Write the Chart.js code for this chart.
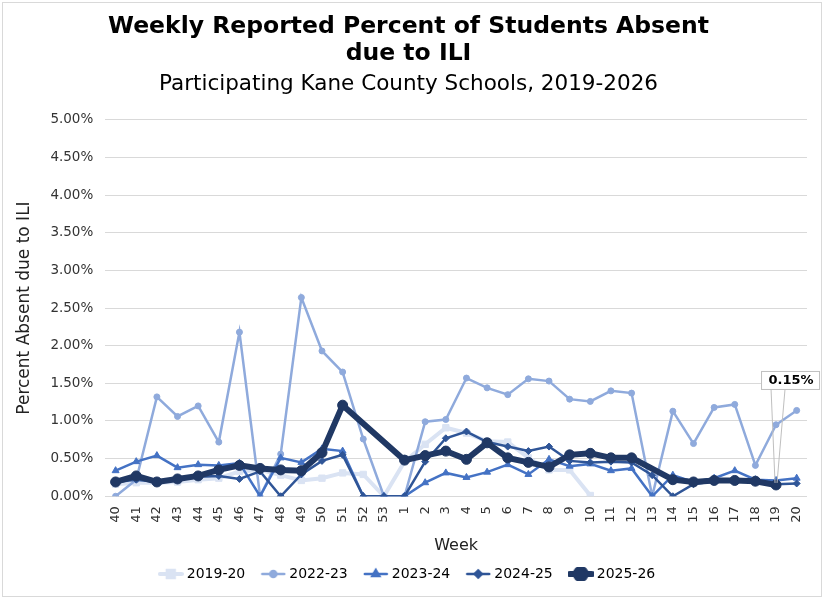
<!DOCTYPE html>
<html>
<head>
<meta charset="utf-8">
<script src="https://cdn.jsdelivr.net/npm/chart.js@4/dist/chart.umd.min.js"></script>
<style>
  html, body { margin: 0; padding: 0; background: #fff; }
  #wrap { width: 825px; height: 599px; }
</style>
</head>
<body>
<div id="wrap"><canvas id="chart"></canvas></div>
<script>
const weeks = ["40","41","42","43","44","45","46","47","48","49","50","51","52","53",
  "1","2","3","4","5","6","7","8","9","10","11","12","13","14","15","16","17","18","19","20"];

const season1920 = [0.16,0.18,0.18,0.19,0.22,0.24,0.33,0.35,0.28,0.21,0.24,0.31,0.29,0.00,
  0.46,0.69,0.91,0.84,0.73,0.72,0.51,0.35,0.35,0.01,null,null,null,null,null,null,null,null,null,null];
const season2223 = [0.00,0.22,1.32,1.06,1.20,0.72,2.18,0.00,0.56,2.64,1.93,1.65,0.76,0.00,
  0.00,0.99,1.02,1.57,1.44,1.35,1.56,1.53,1.29,1.26,1.40,1.37,0.00,1.13,0.70,1.18,1.22,0.41,0.95,1.14];
const season2324 = [0.34,0.46,0.54,0.38,0.42,0.41,0.44,0.00,0.51,0.45,0.63,0.60,0.00,0.00,
  0.00,0.18,0.31,0.25,0.32,0.42,0.29,0.49,0.40,0.43,0.34,0.37,0.00,0.28,0.19,0.24,0.34,0.22,0.21,0.24];
const season2425 = [0.19,0.22,0.19,0.23,0.26,0.27,0.23,0.33,0.00,0.29,0.47,0.55,0.00,0.00,
  0.00,0.46,0.77,0.86,0.72,0.66,0.60,0.66,0.47,0.45,0.46,0.45,0.28,0.00,0.16,0.20,0.21,0.20,0.16,0.17];
const season2526 = [0.19,0.27,0.19,0.23,0.27,0.35,0.41,0.37,0.35,0.34,0.58,1.21,null,null,
  0.48,0.54,0.60,0.49,0.71,0.51,0.45,0.39,0.55,0.57,0.51,0.51,null,0.22,0.19,0.21,0.21,0.20,0.15,null];

const yTicks = [0,0.5,1,1.5,2,2.5,3,3.5,4,4.5,5];

const FONT = "'DejaVu Sans', Verdana, sans-serif";

const series = [
  { label: "2019-20", data: season1920, color: "#dae3f3", width: 4, style: "rect", radius: 4.5 },
  { label: "2022-23", data: season2223, color: "#8faadc", width: 2.5, style: "circle", radius: 3 },
  { label: "2023-24", data: season2324, color: "#4472c4", width: 2.5, style: "triangle", radius: 4 },
  { label: "2024-25", data: season2425, color: "#2f5597", width: 2.5, style: "rectRot", radius: 3.5 },
  { label: "2025-26", data: season2526, color: "#203864", width: 6, style: "circle", radius: 5 }
];

// little line+marker swatch for the legend
function makeSwatch(s) {
  const c = document.createElement("canvas");
  c.width = 26; c.height = 14;
  const g = c.getContext("2d");
  g.strokeStyle = s.color;
  g.lineWidth = s.width;
  g.lineCap = "round";
  g.beginPath(); g.moveTo(2, 7); g.lineTo(24, 7); g.stroke();
  Chart.helpers.drawPoint(g, { pointStyle: s.style, radius: s.radius, rotation: 0, borderWidth: 1 }, 13, 7);
  g.fillStyle = s.color;
  g.fill();
  return c;
}

const callout = {
  id: "callout",
  afterDatasetsDraw(chart) {
    const meta = chart.getDatasetMeta(4);
    const pt = meta.data[32];
    if (!pt) return;
    const ctx = chart.ctx;
    const px = pt.x, py = pt.y;
    const bx = px - 15, by = py - 114, bw = 58, bh = 18;
    ctx.save();
    ctx.strokeStyle = "#bfbfbf";
    ctx.lineWidth = 1;
    ctx.beginPath();
    ctx.moveTo(px - 5, by + bh); ctx.lineTo(px - 1, py - 2);
    ctx.moveTo(px + 9, by + bh); ctx.lineTo(px + 1, py - 2);
    ctx.stroke();
    ctx.fillStyle = "#fff";
    ctx.fillRect(bx, by, bw, bh);
    ctx.strokeRect(bx + 0.5, by + 0.5, bw, bh);
    ctx.fillStyle = "#000";
    ctx.font = "bold 13px " + FONT;
    ctx.textAlign = "center";
    ctx.textBaseline = "middle";
    ctx.fillText(season2526[32].toFixed(2) + "%", bx + bw / 2 + 1, by + bh / 2 + 1);
    ctx.restore();
  }
};

const frame = {
  id: "frame",
  beforeDraw(chart) {
    const ctx = chart.ctx;
    ctx.save();
    ctx.fillStyle = "#fff";
    ctx.fillRect(0, 0, chart.width, chart.height);
    ctx.strokeStyle = "#d9d9d9";
    ctx.lineWidth = 1;
    ctx.strokeRect(2.5, 2.5, chart.width - 6, chart.height - 5);
    ctx.restore();
  }
};

new Chart(document.getElementById("chart"), {
  type: "line",
  data: {
    labels: weeks,
    datasets: series.map((s, i) => ({
      label: s.label,
      data: s.data,
      borderColor: s.color,
      backgroundColor: s.color,
      borderWidth: s.width,
      pointStyle: s.style,
      pointRadius: s.radius,
      pointBorderWidth: 1,
      pointBackgroundColor: s.color,
      pointBorderColor: s.color,
      tension: 0,
      spanGaps: true,
      order: series.length - i,
      swatch: makeSwatch(s)
    }))
  },
  options: {
    responsive: true,
    maintainAspectRatio: false,
    animation: false,
    layout: { padding: { left: 10, right: 18, top: 6, bottom: 8 } },
    scales: {
      x: {
        offset: true,
        grid: { display: false },
        border: { display: false },
        ticks: {
          font: { family: FONT, size: 13 },
          color: "#333",
          maxRotation: 90,
          minRotation: 90,
          autoSkip: false,
          padding: 2
        },
        title: {
          display: true,
          text: "Week",
          font: { family: FONT, size: 16 },
          color: "#222",
          padding: { top: 11, bottom: -7 }
        }
      },
      y: {
        min: 0,
        max: 5,
        afterBuildTicks(axis) { axis.ticks = yTicks.map(v => ({ value: v })); },
        grid: { color: "#d9d9d9", drawTicks: false },
        border: { display: false },
        ticks: {
          font: { family: FONT, size: 13.5 },
          color: "#333",
          padding: 12,
          callback: (v) => Number(v).toFixed(2) + "%"
        },
        title: {
          display: true,
          text: "Percent Absent due to ILI",
          font: { family: FONT, size: 17 },
          color: "#222",
          padding: { bottom: 4 }
        }
      }
    },
    plugins: {
      title: {
        display: true,
        text: ["Weekly Reported Percent of Students Absent", "due to ILI"],
        font: { family: FONT, size: 23.5, weight: "bold", lineHeight: 1.15 },
        color: "#000",
        padding: { top: 7, bottom: 4 }
      },
      subtitle: {
        display: true,
        text: "Participating Kane County Schools, 2019-2026",
        font: { family: FONT, size: 21.5 },
        color: "#000",
        padding: { bottom: 23 }
      },
      legend: {
        position: "bottom",
        labels: {
          usePointStyle: true,
          pointStyleWidth: 18,
          padding: 19,
          font: { family: FONT, size: 14 },
          color: "#222",
          generateLabels(chart) {
            return chart.data.datasets.map((ds, i) => ({
              text: ds.label,
              pointStyle: ds.swatch,
              fillStyle: ds.borderColor,
              strokeStyle: ds.borderColor,
              lineWidth: 0,
              hidden: !chart.isDatasetVisible(i),
              datasetIndex: i
            }));
          }
        }
      },
      tooltip: { enabled: false }
    }
  },
  plugins: [frame, callout]
});
</script>
</body>
</html>
